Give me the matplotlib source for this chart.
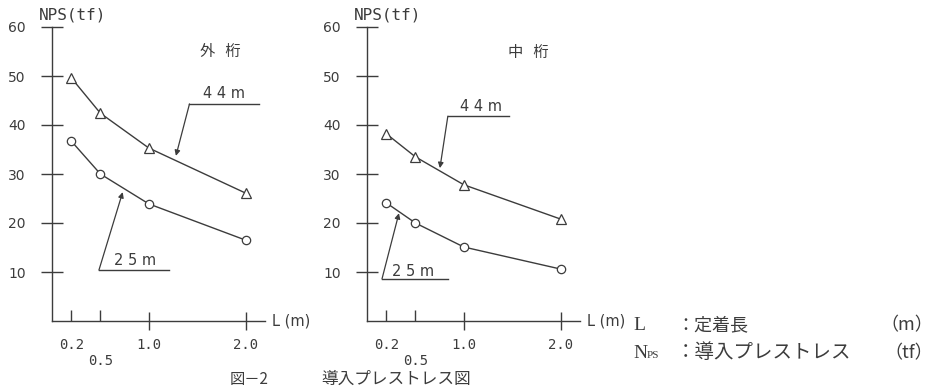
import matplotlib
matplotlib.use('Agg')
import matplotlib.pyplot as plt

# anchorage length L (m) and introduced prestress NPS (tf)
L = [0.2, 0.5, 1.0, 2.0]
outer_44 = [49.6, 42.4, 35.3, 26.1]
outer_25 = [36.7, 30.0, 23.9, 16.5]
inner_44 = [38.2, 33.5, 27.8, 20.8]
inner_25 = [24.1, 20.0, 15.1, 10.6]
yticks = [10, 20, 30, 40, 50, 60]

plt.rcParams['font.family'] = ['DejaVu Sans', 'Noto Sans CJK JP']
INK = '#3c3c3c'
CJK = ['Noto Sans CJK JP', 'DejaVu Sans']

fig = plt.figure(figsize=(9.46, 3.9), dpi=100)


def px_axes(x0, y0_top, w, h):
    # axes from pixel box (left, top of data area, width, height)
    return fig.add_axes([x0 / 946, (390 - y0_top - h) / 390, w / 946, h / 390])


def setup(ax, title):
    ax.set_xlim(0, 2.2)
    ax.set_ylim(0, 60)
    for s in ['top', 'right']:
        ax.spines[s].set_visible(False)
    for s in ['left', 'bottom']:
        ax.spines[s].set_color(INK)
        ax.spines[s].set_linewidth(1.0)
    ax.set_yticks(yticks)
    ax.set_yticklabels([str(v) for v in yticks], fontsize=10, color=INK)
    ax.tick_params(axis='y', direction='inout', length=16, width=1.0,
                   color=INK, pad=11)
    ax.set_xticks([1.0, 2.0])
    ax.set_xticklabels(['1.0', '2.0'], fontsize=10, color=INK,
                       family='DejaVu Sans Mono')
    ax.set_xticks([0.2, 0.5], minor=True)
    ax.set_xticklabels(['0.2', '\n0.5'], minor=True, fontsize=10, color=INK,
                       family='DejaVu Sans Mono')
    ax.tick_params(axis='x', which='major', direction='inout', length=13,
                   width=1.0, color=INK, pad=6)
    ax.tick_params(axis='x', which='minor', direction='in', length=8,
                   width=1.0, color=INK, pad=12)
    ax.text(-0.14, 62.4, 'NPS(tf)', fontsize=11.5, color=INK, va='center',
            ha='left', family='DejaVu Sans Mono', clip_on=False)
    ax.text(2.27, 0, 'L (m)', fontsize=10.5, color=INK, va='center',
            ha='left', clip_on=False)
    ax.text(title[1], title[2], title[0], fontsize=11, color=INK,
            ha='center', va='center', family=CJK)


def series(ax, y, marker, ms):
    ax.plot(L, y, color=INK, lw=1.0, marker=marker, ms=ms, mfc='white',
            mec=INK, mew=0.9, clip_on=False)


def leader(ax, label, tx, ty, x1, x2, yl, start, tip):
    ax.text(tx, ty, label, fontsize=10.5, color=INK, ha='center', va='center')
    ax.plot([x1, x2], [yl, yl], color=INK, lw=1.0)
    ax.annotate('', xy=tip, xytext=start,
                arrowprops=dict(arrowstyle='-|>', color=INK, lw=0.9,
                                mutation_scale=8, shrinkA=0, shrinkB=0))


# left: outer girder
ax1 = px_axes(52, 27, 213, 294)
setup(ax1, ('外   桁', 1.74, 54.9))
series(ax1, outer_44, '^', 6.5)
series(ax1, outer_25, 'o', 6)
leader(ax1, '4 4 m', 1.78, 46.5, 1.42, 2.14, 44.3, (1.42, 44.3), (1.28, 33.7))
leader(ax1, '2 5 m', 0.86, 12.4, 0.485, 1.206, 10.4, (0.485, 10.4), (0.73, 26.3))

# right: inner girder
ax2 = px_axes(367, 27, 213, 294)
setup(ax2, ('中   桁', 1.67, 54.7))
series(ax2, inner_44, '^', 6.5)
series(ax2, inner_25, 'o', 6)
leader(ax2, '4 4 m', 1.175, 43.7, 0.835, 1.464, 41.8, (0.835, 41.8), (0.753, 31.2))
leader(ax2, '2 5 m', 0.474, 10.0, 0.155, 0.835, 8.6, (0.155, 8.6), (0.33, 22.0))


# notation block
def fx(px):
    return px / 946


def fy(py):
    return (390 - py) / 390


fig.text(fx(633), fy(325), 'L', fontsize=14, color=INK, family='Liberation Serif',
         va='center', ha='left')
fig.text(fx(676), fy(325), '：定着長', fontsize=13, color=INK, family=CJK,
         va='center', ha='left')
fig.text(fx(933), fy(325), '（m）', fontsize=13, color=INK, family=CJK,
         va='center', ha='right')
fig.text(fx(633), fy(353), 'N', fontsize=14, color=INK, family='Liberation Serif',
         va='center', ha='left')
fig.text(fx(647), fy(356), 'PS', fontsize=8, color=INK, family='Liberation Serif',
         va='center', ha='left')
fig.text(fx(676), fy(353), '：導入プレストレス', fontsize=14, color=INK, family=CJK,
         va='center', ha='left')
fig.text(fx(933), fy(353), '（tf）', fontsize=13, color=INK, family=CJK,
         va='center', ha='right')

# caption along the lower edge
fig.text(fx(230), fy(388), '図－2', fontsize=11, color=INK, family=CJK,
         va='bottom', ha='left')
fig.text(fx(321), fy(388), '導入プレストレス図', fontsize=12, color=INK, family=CJK,
         va='bottom', ha='left')

fig.savefig('out.png', dpi=100, facecolor='white')
